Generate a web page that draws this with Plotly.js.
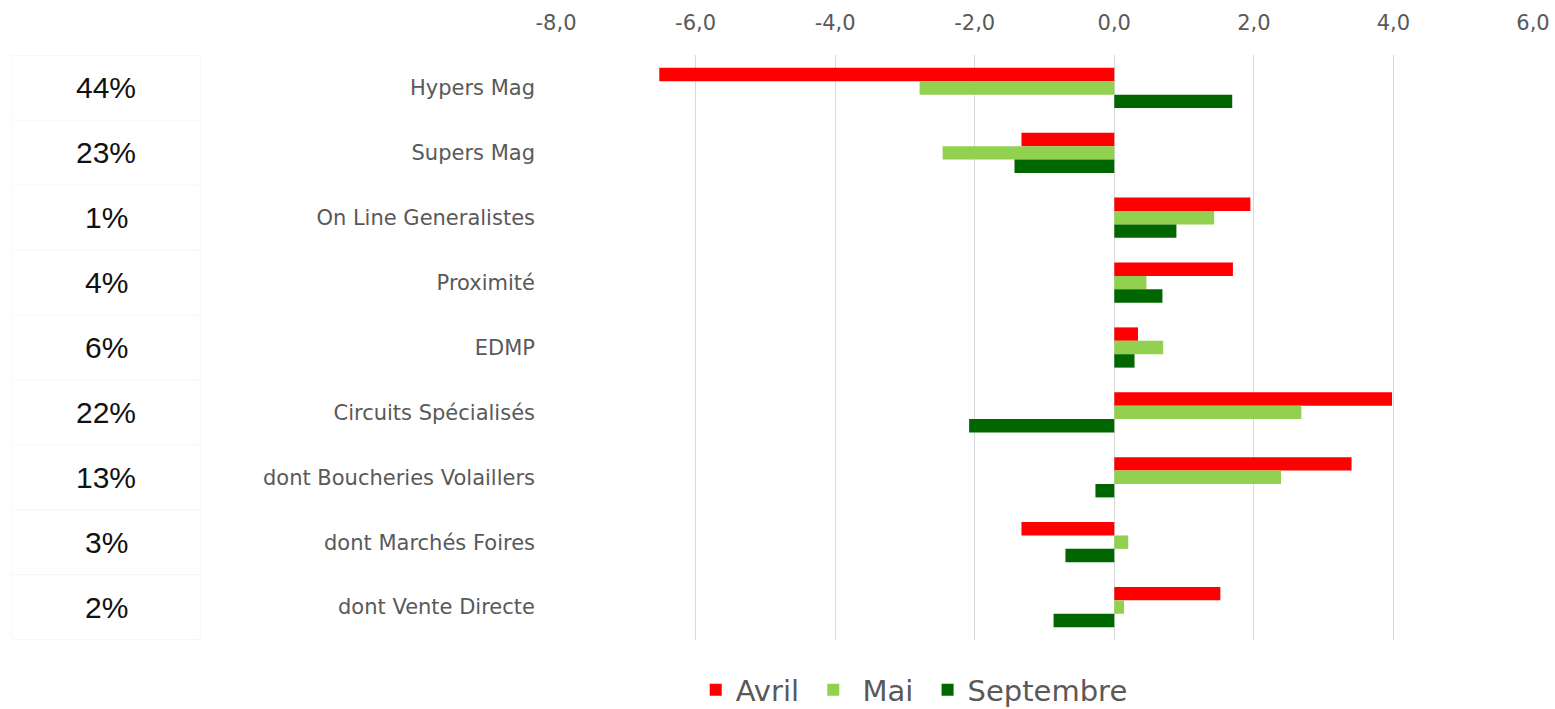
<!DOCTYPE html>
<html>
<head>
<meta charset="utf-8">
<script src="https://cdn.plot.ly/plotly-3.0.1.min.js"></script>
<style>
  html, body { margin: 0; padding: 0; background: #fff; }
  #chart { width: 1555px; height: 709px; }
</style>
</head>
<body>
<div id="chart"></div>
<script>
const categories = ['Hypers Mag', 'Supers Mag', 'On Line Generalistes', 'Proximité', 'EDMP',
    'Circuits Spécialisés', 'dont Boucheries Volaillers', 'dont Marchés Foires', 'dont Vente Directe'];
const shares = ['44%', '23%', '1%', '4%', '6%', '22%', '13%', '3%', '2%'];

const avril = [-6.52, -1.33, 1.95, 1.70, 0.34, 3.98, 3.40, -1.33, 1.52];
const mai = [-2.79, -2.46, 1.43, 0.46, 0.70, 2.68, 2.39, 0.20, 0.14];
const septembre = [1.69, -1.43, 0.89, 0.69, 0.29, -2.08, -0.27, -0.70, -0.87];

const seriesNames = ['Avril', 'Mai', 'Septembre'];
const seriesColors = ['#ff0000', '#92d050', '#006600'];
const seriesValues = [avril, mai, septembre];
// non-breaking spaces to widen the legend gaps a little, as in the original
const legendPad = [['', '\u00a0'], ['\u00a0', '\u00a0'], ['', '']];

const tickValues = [-8, -6, -4, -2, 0, 2, 4, 6];
// plain hyphen and decimal comma, like the original
const tickLabels = tickValues.map(v => v.toFixed(1).replace('.', ','));

const data = seriesValues.map((vals, i) => ({
    type: 'bar',
    orientation: 'h',
    name: legendPad[i][0] + seriesNames[i] + legendPad[i][1],
    x: vals,
    y: categories,
    marker: {color: seriesColors[i]},
    hovertemplate: seriesNames[i] + ' – %{y}: %{x}<extra></extra>'
}));

// share column on the left, with faint cell borders
const annotations = categories.map((c, i) => ({
    xref: 'paper', yref: 'y',
    x: -0.4605, y: c,
    xanchor: 'center', yanchor: 'middle',
    text: shares[i],
    showarrow: false,
    font: {family: 'Liberation Sans, Arial, sans-serif', size: 30, color: '#111'}
}));

const shapes = [];
for (let i = 0; i <= categories.length; i++) {
    shapes.push({
        type: 'line', xref: 'paper', yref: 'y',
        x0: -0.557, x1: -0.364, y0: i - 0.5, y1: i - 0.5,
        line: {color: '#f7f7f7', width: 1}
    });
}
shapes.push({type: 'line', xref: 'paper', yref: 'y', x0: -0.557, x1: -0.557, y0: -0.5, y1: categories.length - 0.5,
    line: {color: '#f7f7f7', width: 1}});
shapes.push({type: 'line', xref: 'paper', yref: 'y', x0: -0.364, x1: -0.364, y0: -0.5, y1: categories.length - 0.5,
    line: {color: '#f7f7f7', width: 1}});

const layout = {
    width: 1555,
    height: 709,
    margin: {l: 556, r: 22, t: 55, b: 69},
    paper_bgcolor: '#fff',
    plot_bgcolor: '#fff',
    barmode: 'group',
    bargap: 0.38,
    bargroupgap: 0,
    font: {family: 'DejaVu Sans, sans-serif', color: '#595959'},
    xaxis: {
        side: 'top',
        range: [-8, 6],
        tickmode: 'array',
        tickvals: tickValues,
        ticktext: tickLabels,
        showgrid: true,
        gridcolor: '#d9d9d9',
        zeroline: false,
        showline: false,
        ticks: '',
        ticklabelstandoff: 20,
        tickfont: {size: 21, color: '#595959'}
    },
    yaxis: {
        autorange: 'reversed',
        showgrid: false,
        zeroline: false,
        showline: false,
        ticks: '',
        ticklabelstandoff: 20,
        tickfont: {size: 21, color: '#595959'}
    },
    showlegend: true,
    legend: {
        orientation: 'h',
        xref: 'paper', yref: 'container',
        x: 0.143, y: 0.027,
        xanchor: 'left', yanchor: 'middle',
        font: {size: 29, color: '#595959'},
        itemwidth: 30,
        traceorder: 'normal'
    },
    annotations: annotations,
    shapes: shapes
};

Plotly.newPlot('chart', data, layout, {displayModeBar: false, responsive: false});
</script>
</body>
</html>
